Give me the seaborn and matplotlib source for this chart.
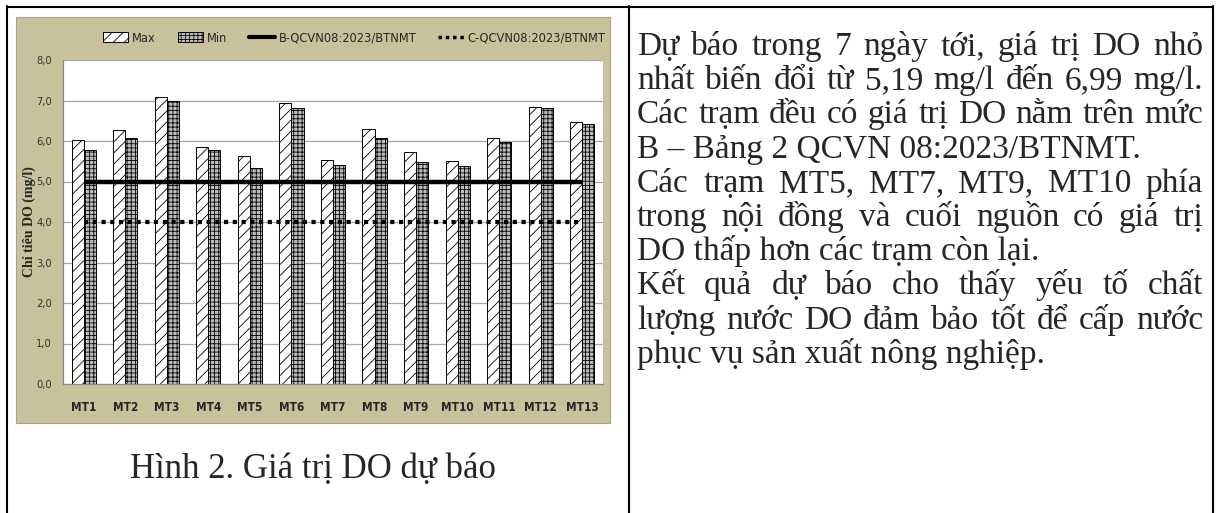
import matplotlib
matplotlib.use("Agg")
import matplotlib.pyplot as plt
import seaborn as sns
import pandas as pd
from matplotlib import font_manager as fm
from matplotlib.patches import Patch, Rectangle
from matplotlib.lines import Line2D

stations = ['MT1', 'MT2', 'MT3', 'MT4', 'MT5', 'MT6', 'MT7', 'MT8', 'MT9', 'MT10', 'MT11', 'MT12', 'MT13']
do_max = [6.02, 6.26, 7.08, 5.85, 5.63, 6.93, 5.53, 6.30, 5.74, 5.51, 6.07, 6.85, 6.47]
do_min = [5.79, 6.07, 6.99, 5.79, 5.34, 6.81, 5.40, 6.08, 5.49, 5.38, 5.98, 6.81, 6.43]
b_limit = [5.0, 5.0, 5.0, 5.0, 5.0, 5.0, 5.0, 5.0, 5.0, 5.0, 5.0, 5.0, 5.0]
c_limit = [4.0, 4.0, 4.0, 4.0, 4.0, 4.0, 4.0, 4.0, 4.0, 4.0, 4.0, 4.0, 4.0]
y_ticks = [0, 1, 2, 3, 4, 5, 6, 7, 8]
y_tick_labels = ['0,0', '1,0', '2,0', '3,0', '4,0', '5,0', '6,0', '7,0', '8,0']
legend_labels = ['Max', 'Min', 'B-QCVN08:2023/BTNMT', 'C-QCVN08:2023/BTNMT']
y_label = 'Chỉ tiêu DO (mg/l)'
caption = 'Hình 2. Giá trị DO dự báo'
paragraphs = [
    ['Dự báo trong 7 ngày tới, giá trị DO nhỏ',
     'nhất biến đổi từ 5,19 mg/l đến 6,99 mg/l.',
     'Các trạm đều có giá trị DO nằm trên mức',
     'B – Bảng 2 QCVN 08:2023/BTNMT.'],
    ['Các trạm MT5, MT7, MT9, MT10 phía',
     'trong nội đồng và cuối nguồn có giá trị',
     'DO thấp hơn các trạm còn lại.'],
    ['Kết quả dự báo cho thấy yếu tố chất',
     'lượng nước DO đảm bảo tốt để cấp nước',
     'phục vụ sản xuất nông nghiệp.'],
]

W, H = 1217, 513
sns.set_style('white')
plt.rcParams['hatch.linewidth'] = 0.6
serif = ['Liberation Serif', 'DejaVu Serif']

# narrow sans for the chart texts (Calibri-like look)
cond_path = fm.findfont(fm.FontProperties(family='DejaVu Sans', stretch='condensed'))
if 'Condensed' in cond_path:
    narrow, stretch = 'DejaVu Sans', 'condensed'
else:
    narrow, stretch = 'Liberation Sans', 'normal'


def fx(x):
    return x / W


def fy(y):
    return 1 - y / H


fig = plt.figure(figsize=(W / 100, H / 100), dpi=100)

# table borders
for x in (7, 629, 1213):
    fig.add_artist(Line2D([fx(x), fx(x)], [0, fy(6)], color='black', lw=1.5))
fig.add_artist(Line2D([fx(7), fx(1213)], [fy(6.5), fy(6.5)], color='black', lw=1.5))

# tan chart panel
fig.add_artist(Rectangle((fx(16), fy(423)), fx(610) - fx(16), fy(17) - fy(423),
                         facecolor='#C9C09C', edgecolor='#A8A28A', lw=0.8, zorder=-5))

ax = fig.add_axes([fx(63), fy(384), fx(603) - fx(63), fy(60) - fy(384)])
ax.set_facecolor('white')

data = pd.DataFrame({
    'station': stations * 2,
    'value': do_max + do_min,
    'series': ['Max'] * len(stations) + ['Min'] * len(stations),
})
sns.barplot(data=data, x='station', y='value', hue='series',
            palette={'Max': 'white', 'Min': '#bdbdbd'},
            edgecolor='black', linewidth=0.7, width=0.58, gap=0,
            legend=False, ax=ax, zorder=2)
for bar in ax.containers[0]:
    bar.set_hatch('///')
for bar in ax.containers[1]:
    bar.set_hatch('++++')

xs = list(range(len(stations)))
ax.plot(xs, b_limit, color='black', lw=3.2, solid_capstyle='butt', zorder=3)
ax.plot(xs, c_limit, color='black', lw=3.0, linestyle=(0, (1, 1.1)), zorder=3)

ax.set_ylim(0, 8)
ax.set_xlim(-0.5, len(stations) - 0.5)
ax.set_yticks(y_ticks)
ax.set_yticklabels(y_tick_labels, family=narrow, fontstretch=stretch, fontsize=8, color='#333333')
ax.set_xticks(xs)
ax.set_xticklabels(stations, family=narrow, fontstretch=stretch, fontsize=8.5, fontweight='bold')
ax.set_xticks([i - 0.5 for i in range(len(stations) + 1)], minor=True)
ax.tick_params(axis='x', which='major', length=0, pad=12)
ax.tick_params(axis='x', which='minor', length=4, color='#888888', direction='out')
ax.tick_params(axis='y', length=6, color='#888888', direction='out', pad=2)
ax.yaxis.grid(True, color='#a6a6a6', lw=0.9)
ax.set_axisbelow(True)
for side in ('top', 'right'):
    ax.spines[side].set_visible(False)
for side in ('left', 'bottom'):
    ax.spines[side].set_color('#888888')
    ax.spines[side].set_linewidth(0.9)
ax.set_xlabel('')
ax.set_ylabel('')
fig.text(fx(29), fy(222), y_label, rotation=90, ha='center', va='center',
         family=serif, fontweight='bold', fontsize=10)

handles = [
    Patch(facecolor='white', edgecolor='black', hatch='///', lw=0.7),
    Patch(facecolor='#bdbdbd', edgecolor='black', hatch='++++', lw=0.7),
    Line2D([0], [0], color='black', lw=3),
    Line2D([0], [0], color='black', lw=2.5, linestyle=(0, (1, 1.1))),
]
fig.legend(handles, legend_labels, loc='center', bbox_to_anchor=(fx(354), fy(38)),
           ncol=4, frameon=False,
           prop=fm.FontProperties(family=narrow, stretch=stretch, size=9.2),
           handlelength=2.0, handleheight=0.8, columnspacing=1.7, handletextpad=0.3)

fig.text(fx(313), fy(478), caption, ha='center', va='baseline', family=serif, fontsize=25)

# justified paragraph text on the right
renderer = fig.canvas.get_renderer()
left, right = 637, 1203
baseline = 55
step = 34.2
body_size = 24
for para in paragraphs:
    for i, line in enumerate(para):
        y = fy(baseline)
        if i == len(para) - 1:
            fig.text(fx(left), y, line, va='baseline', family=serif, fontsize=body_size)
        else:
            words = line.split(' ')
            texts = [fig.text(0, y, w, va='baseline', family=serif, fontsize=body_size) for w in words]
            widths = [t.get_window_extent(renderer).width for t in texts]
            gap = (right - left - sum(widths)) / (len(words) - 1)
            x = left
            for t, w in zip(texts, widths):
                t.set_x(fx(x))
                x += w + gap
        baseline += step

fig.savefig('out.png', dpi=100)
plt.close('all')
